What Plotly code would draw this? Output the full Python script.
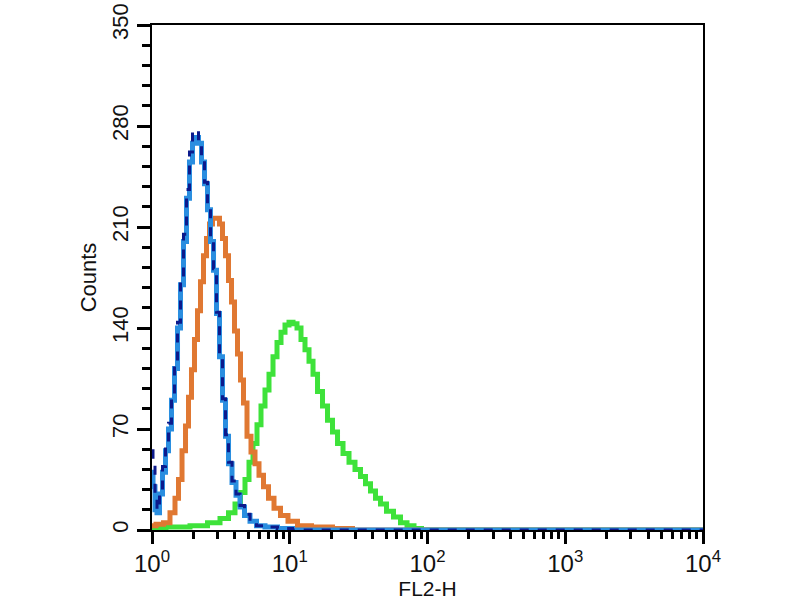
import plotly.graph_objects as go

# FL2-H histogram (counts per channel)
blue_x = [1.000, 1.034, 1.069, 1.106, 1.162, 1.222, 1.285, 1.351, 1.420, 1.494,
          1.570, 1.651, 1.736, 1.825, 1.919, 2.018, 2.122, 2.231, 2.346, 2.466,
          2.593, 2.727, 2.867, 3.014, 3.169, 3.332, 3.503, 3.684, 3.938, 4.210,
          4.501, 4.894, 5.410, 6.082, 7.188, 9.236, 11.87, 10000]
blue_y = [40, 30, 14, 12, 25, 40, 55, 70, 90, 112,
          140, 170, 200, 230, 255, 268, 272, 268, 255, 240,
          222, 200, 180, 150, 120, 90, 65, 46, 33, 24,
          16, 10, 6, 3, 2, 1, 0, 0]
navy_y = [55, 48, 20, 14, 28, 44, 58, 74, 94, 116,
          144, 174, 205, 236, 262, 276, 277, 270, 256, 241,
          223, 201, 181, 151, 121, 91, 66, 47, 34, 25,
          17, 11, 6, 3, 2, 1, 0, 0]

orange_x = [1.000, 1.143, 1.285, 1.420, 1.519, 1.597, 1.708, 1.795, 1.887, 1.984,
            2.086, 2.194, 2.307, 2.425, 2.550, 2.681, 2.819, 3.014, 3.169, 3.332,
            3.503, 3.684, 3.873, 4.072, 4.281, 4.501, 4.733, 5.060, 5.410, 5.784,
            6.184, 6.723, 7.310, 8.082, 9.082, 10.38, 12.48, 16.58, 25.18, 32.36, 10000]
orange_y = [3, 4, 5, 12, 22, 35, 55, 72, 92, 111,
            132, 152, 172, 190, 202, 212, 216, 216, 212, 202,
            190, 173, 158, 138, 122, 104, 88, 65, 54, 46,
            38, 30, 22, 15, 10, 6, 3, 2, 1, 0, 0]

green_x = [1.000, 1.597, 2.231, 2.867, 3.388, 3.809, 4.210, 4.577, 4.894, 5.232,
           5.594, 5.981, 6.394, 6.837, 7.310, 7.816, 8.356, 8.933, 9.550, 10.21,
           10.92, 11.67, 12.48, 13.34, 14.27, 15.26, 16.58, 18.03, 19.60, 21.31,
           23.17, 25.61, 28.31, 31.29, 34.02, 36.99, 40.21, 43.72, 47.53, 53.43,
           60.05, 67.51, 74.65, 85.33, 95.92, 10000]
green_y = [1, 2, 3, 5, 8, 12, 18, 26, 35, 47,
           60, 73, 86, 97, 108, 120, 130, 137, 142, 144,
           143, 140, 132, 125, 117, 108, 96, 86, 76, 68,
           60, 53, 47, 42, 37, 32, 27, 22, 18, 13,
           9, 5, 3, 1, 0, 0]

fig = go.Figure()
fig.add_trace(go.Scatter(x=green_x, y=green_y, mode="lines", line_shape="hvh",
                         line=dict(color="#3ee23a", width=5)))
fig.add_trace(go.Scatter(x=orange_x, y=orange_y, mode="lines", line_shape="hvh",
                         line=dict(color="#e07832", width=5)))
fig.add_trace(go.Scatter(x=blue_x, y=blue_y, mode="lines", line_shape="hvh",
                         line=dict(color="#2a8ee0", width=5)))
fig.add_trace(go.Scatter(x=blue_x, y=navy_y, mode="lines", line_shape="hvh",
                         line=dict(color="#0c1a8c", width=3, dash="dash")))

fig.update_layout(
    width=800, height=600,
    margin=dict(l=152, r=97, t=25, b=70),
    plot_bgcolor="white", paper_bgcolor="white",
    showlegend=False,
    font=dict(family="Liberation Sans, Arial", color="#111", size=21),
)
fig.update_xaxes(
    type="log", range=[0, 4], automargin=False,
    tickvals=[1, 10, 100, 1000, 10000],
    ticktext=["10<sup>0</sup>", "10<sup>1</sup>", "10<sup>2</sup>", "10<sup>3</sup>", "10<sup>4</sup>"],
    tickfont=dict(size=24), ticklabelstandoff=-1, ticklabeloverflow="allow",
    ticks="outside", ticklen=12, tickwidth=3, tickcolor="black",
    minor=dict(ticks="outside", ticklen=7, tickwidth=3, tickcolor="black", dtick="D1"),
    showline=True, linecolor="black", linewidth=2, mirror=True,
    showgrid=False, zeroline=False,
    title=dict(text="FL2-H", font=dict(size=21), standoff=0),
)
fig.update_yaxes(
    range=[0, 350], automargin=False,
    tickvals=[0, 70, 140, 210, 280, 350],
    tickangle=-90, ticklabeloverflow="allow",
    tickfont=dict(size=22),
    ticks="outside", ticklen=13, tickwidth=3, tickcolor="black",
    minor=dict(ticks="outside", ticklen=8, tickwidth=3, tickcolor="black", dtick=14),
    showline=True, linecolor="black", linewidth=2, mirror=True,
    showgrid=False, zeroline=False,
    title=dict(text="Counts", font=dict(size=22), standoff=6),
)

# drop the page's default body margin so the figure sits at the window corner
fig.write_html("out.html", config={"displayModeBar": False},
               post_script="document.body.style.margin='0';")
